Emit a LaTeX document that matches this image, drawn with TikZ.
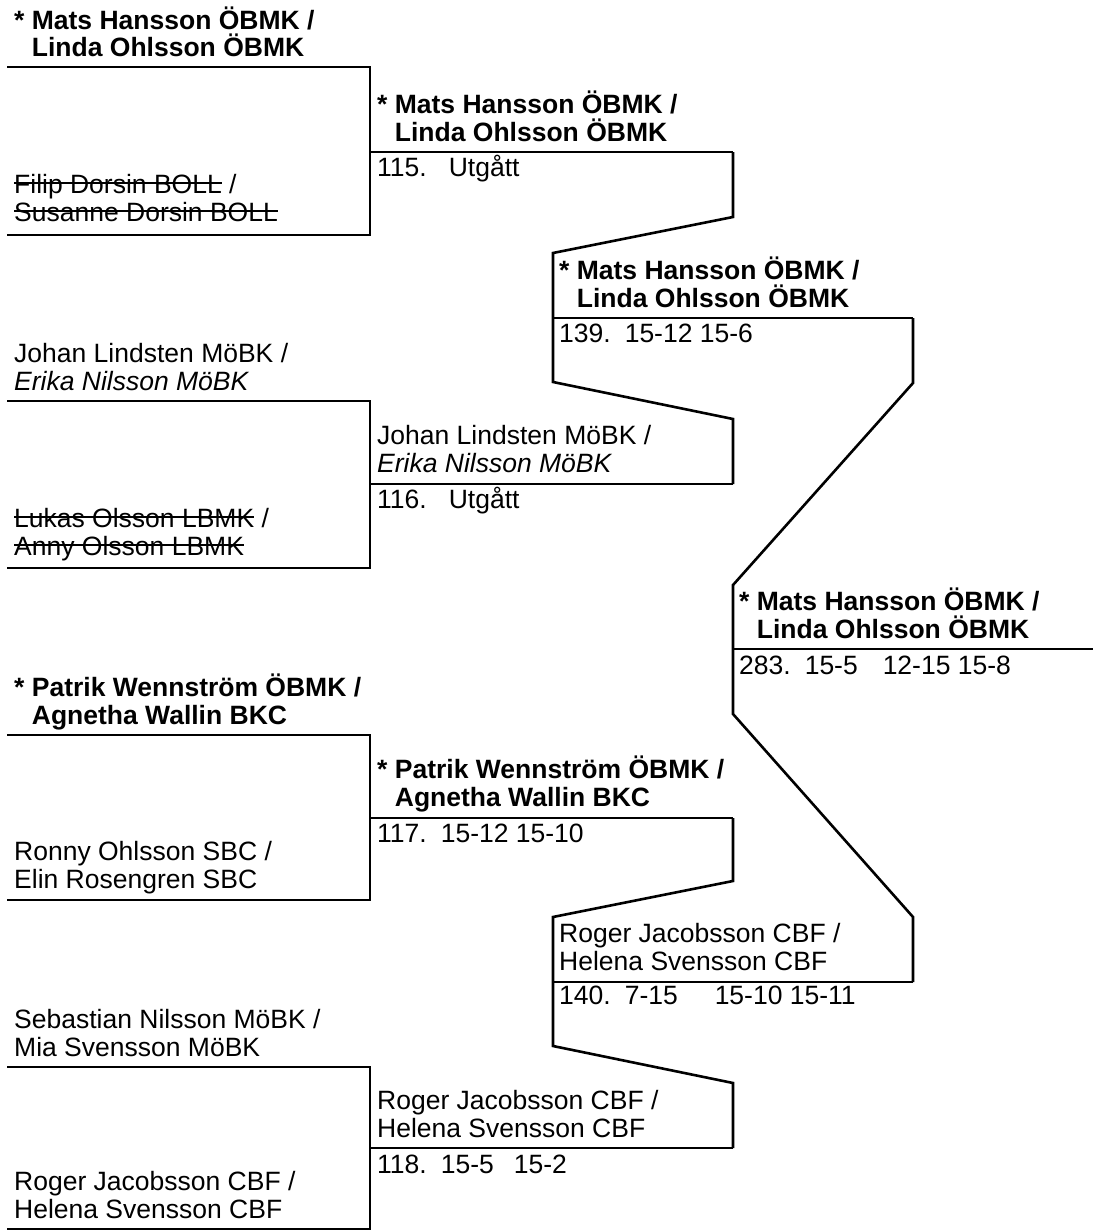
\documentclass[tikz,border=0pt]{standalone}
\usepackage{fontspec}
\setmainfont{Liberation Sans}
\usetikzlibrary{positioning}

\newsavebox{\strikebox}
\newcommand{\struck}[1]{\sbox{\strikebox}{#1}\rlap{\usebox{\strikebox}}\rule[9pt]{\wd\strikebox}{1.6pt}}
\newcommand{\teamfont}{\fontsize{26.5}{28}\selectfont}
\newcommand{\scorebox}[2][73pt]{\makebox[#1][l]{#2}}

\begin{document}
\begin{tikzpicture}[x=1pt,y=-1pt]
\tikzstyle{team}=[anchor=base west,inner sep=0pt,align=left,font=\teamfont]
\tikzstyle{seeded}=[team,font=\teamfont\bfseries]
\tikzstyle{result}=[anchor=base west,inner sep=0pt,font=\teamfont]
\tikzstyle{bracket}=[line width=2.6pt,line join=miter]

\useasboundingbox (0,0) rectangle (1101,1231);

\coordinate (c1) at (370,0);
\coordinate (c4) at (913,0);
\coordinate (m1a) at (7,67);
\coordinate (m1b) at (7,235);
\coordinate (m2a) at (7,401);
\coordinate (m2b) at (7,568);
\coordinate (m3a) at (7,735);
\coordinate (m3b) at (7,900);
\coordinate (m4a) at (7,1067);
\coordinate (m4b) at (7,1229);
\coordinate (w1) at (733,152);
\coordinate (w2) at (733,484);
\coordinate (w3) at (733,818);
\coordinate (w4) at (733,1148);
\coordinate (r3a) at (553,318);
\coordinate (r3b) at (553,982);
\coordinate (fin) at (733,649);

\draw[bracket] (m1a) -- (m1a -| c1) -- (m1b -| c1) -- (m1b);
\draw[bracket] (w1 -| c1) -- (w1);
\draw[bracket] (m2a) -- (m2a -| c1) -- (m2b -| c1) -- (m2b);
\draw[bracket] (w2 -| c1) -- (w2);
\draw[bracket] (m3a) -- (m3a -| c1) -- (m3b -| c1) -- (m3b);
\draw[bracket] (w3 -| c1) -- (w3);
\draw[bracket] (m4a) -- (m4a -| c1) -- (m4b -| c1) -- (m4b);
\draw[bracket] (w4 -| c1) -- (w4);

\draw[bracket] (w1) -- ++(0,65) -- ++(-180,36) -- ++(0,129) -- ++(180,37) -- (w2);
\draw[bracket] (w3) -- ++(0,63) -- ++(-180,36) -- ++(0,129) -- ++(180,37) -- (w4);
\draw[bracket] (r3a) -- (r3a -| c4);
\draw[bracket] (r3b) -- (r3b -| c4);
\draw[bracket] (r3a -| c4) -- ++(0,65) -- ++(-180,202) -- ++(0,129) -- ++(180,203) -- (r3b -| c4);
\draw[bracket] (fin) -- ++(360,0);

\node[seeded] (t1) at (14,57) {* Mats Hansson ÖBMK /\\\hphantom{*\ }Linda Ohlsson ÖBMK};
\node[team] (t2) at (14,221) {\struck{Filip Dorsin BOLL} /\\\struck{Susanne Dorsin BOLL}};
\node[team] (t3) at (14,390) {Johan Lindsten MöBK /\\\textit{Erika Nilsson MöBK}};
\node[team] (t4) at (14,555) {\struck{Lukas Olsson LBMK} /\\\struck{Anny Olsson LBMK}};
\node[seeded] (t5) at (14,724) {* Patrik Wennström ÖBMK /\\\hphantom{*\ }Agnetha Wallin BKC};
\node[team] (t6) at (14,888) {Ronny Ohlsson SBC /\\Elin Rosengren SBC};
\node[team] (t7) at (14,1056) {Sebastian Nilsson MöBK /\\Mia Svensson MöBK};
\node[team] (t8) at (14,1218) {Roger Jacobsson CBF /\\Helena Svensson CBF};

\node[seeded] (s1) at (377,141) {* Mats Hansson ÖBMK /\\\hphantom{*\ }Linda Ohlsson ÖBMK};
\node[result] (n1) at (377,176) {115.\hspace{22pt}Utgått};
\node[team] (s2) at (377,472) {Johan Lindsten MöBK /\\\textit{Erika Nilsson MöBK}};
\node[result] (n2) at (377,508) {116.\hspace{22pt}Utgått};
\node[seeded] (s3) at (377,806) {* Patrik Wennström ÖBMK /\\\hphantom{*\ }Agnetha Wallin BKC};
\node[result] (n3) at (377,842) {117.\hspace{14pt}15-12 15-10};
\node[team] (s4) at (377,1137) {Roger Jacobsson CBF /\\Helena Svensson CBF};
\node[result] (n4) at (377,1173) {118.\hspace{14pt}\scorebox{15-5}15-2};

\node[seeded] (q1) at (559,307) {* Mats Hansson ÖBMK /\\\hphantom{*\ }Linda Ohlsson ÖBMK};
\node[result] (k1) at (559,342) {139.\hspace{14pt}15-12 15-6};
\node[team] (q2) at (559,970) {Roger Jacobsson CBF /\\Helena Svensson CBF};
\node[result] (k2) at (559,1004) {140.\hspace{14pt}\scorebox[90pt]{7-15}15-10 15-11};

\node[seeded] (f1) at (739,638) {* Mats Hansson ÖBMK /\\\hphantom{*\ }Linda Ohlsson ÖBMK};
\node[result] (k3) at (739,674) {283.\hspace{14pt}\scorebox[78pt]{15-5}12-15 15-8};
\end{tikzpicture}
\end{document}
